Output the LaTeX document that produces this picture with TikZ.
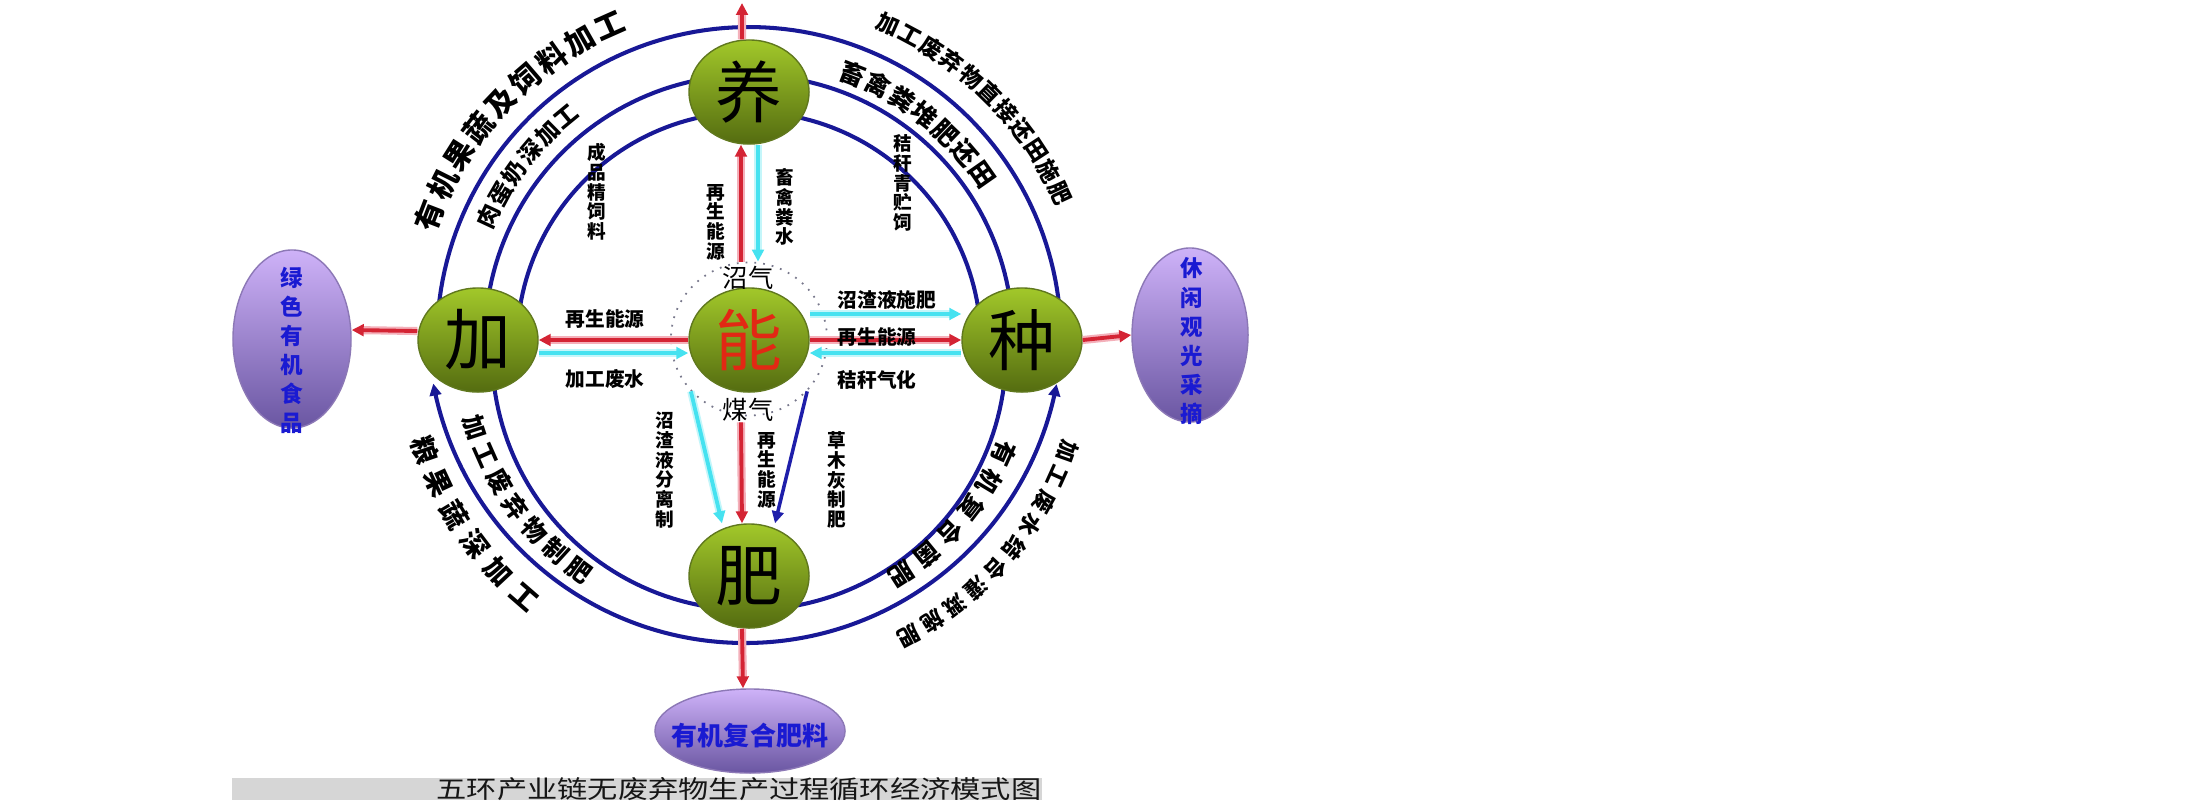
\documentclass[tikz,border=0pt]{standalone}
\usepackage{fontspec}
\setmainfont{Noto Sans CJK SC}
\usetikzlibrary{shapes.geometric,arrows.meta,calc}
\definecolor{ringblue}{RGB}{24,24,150}
\definecolor{redA}{RGB}{212,36,52}
\definecolor{redglow}{RGB}{244,176,186}
\definecolor{cyanA}{RGB}{70,226,240}
\definecolor{cyanglow}{RGB}{196,246,250}
\definecolor{gTop}{RGB}{162,200,42}
\definecolor{gBot}{RGB}{84,108,16}
\definecolor{gEdge}{RGB}{96,120,30}
\definecolor{pTop}{RGB}{206,178,248}
\definecolor{pBot}{RGB}{106,86,162}
\definecolor{pEdge}{RGB}{140,120,182}
\definecolor{blueT}{RGB}{26,26,210}
\definecolor{nengred}{RGB}{226,40,20}
\definecolor{navy}{RGB}{30,30,170}
\definecolor{barGray}{RGB}{214,214,214}
\definecolor{titleGray}{RGB}{22,22,22}
\definecolor{ringGray}{RGB}{120,120,140}

\tikzset{
  greenball/.style={ellipse, minimum width=1.2cm, minimum height=1.04cm, inner sep=0pt,
    top color=gTop, bottom color=gBot, draw=gEdge, line width=0.4pt,
    font=\fontsize{19}{19}\selectfont},
  purpleoval/.style={ellipse, inner sep=0pt, top color=pTop, bottom color=pBot, draw=pEdge, line width=0.4pt},
  ringline/.style={draw=ringblue, line width=1.15pt},
  tipT/.style={-{Triangle[length=3.4pt,width=3.3pt]}},
  redarr/.style={draw=redA, line width=1.1pt, tipT,
    preaction={draw=redglow, line width=2.3pt, arrows=-, shorten >=3pt}},
  cyanarr/.style={draw=cyanA, line width=1.1pt, tipT,
    preaction={draw=cyanglow, line width=2.1pt, arrows=-, shorten >=3pt}},
  navyarr/.style={draw=navy, line width=1.0pt, tipT},
  lab/.style={font=\fontsize{5.6}{5.6}\selectfont\bfseries, inner sep=0pt},
  vlab/.style={font=\fontsize{5.3}{5.6}\selectfont\bfseries, align=center, inner sep=0pt},
  gas/.style={font=\fontsize{7.2}{7.2}\selectfont, inner sep=0pt},
  plab/.style={font=\fontsize{6.4}{8.25}\selectfont\bfseries, text=blueT, align=center, inner sep=0pt},
}

% #1 radius, #2 start angle, #3 step, #4 rotation offset, #5 font size, #6 chars, #7 name prefix
\newcommand{\arcchars}[7]{%
  \foreach \ch [count=\k from 0] in {#6} {
    \pgfmathsetmacro{\ang}{#2+\k*#3}
    \node[inner sep=0pt, font=\fontsize{#5}{#5}\selectfont\bfseries, rotate=\ang+#4]
      (#7\k) at ({749+#1*cos(\ang)},{-338+#1*sin(\ang)}) {\ch};
  }%
}

\begin{document}
\begin{tikzpicture}[x=0.01cm,y=0.01cm]
\useasboundingbox (0,0) rectangle (2210,-808);
\fill[white] (0,0) rectangle (2210,-808);

% ---- title bar
\fill[barGray] (232,-778) rectangle (1042,-800);
\node[font=\fontsize{8.6}{8.6}\selectfont, text=titleGray, yscale=0.82, inner sep=0pt]
  (title) at (739,-789) {五环产业链无废弃物生产过程循环经济模式图};

% ---- rings
\draw[ringline] plot[domain=0:180,samples=100] ({749+312*cos(\x)},{-339+312*sin(\x)});
\draw[ringline] plot[domain=0:180,samples=100] ({749+264*cos(\x)},{-339+264*sin(\x)});
\draw[ringline] plot[domain=0:180,samples=100] ({749+232*cos(\x)},{-344+232*sin(\x)});
\draw[ringline] plot[domain=180:360,samples=100] ({749+257*cos(\x)},{-353+257*sin(\x)});
\draw[ringline, tipT] plot[domain=0:1,samples=80] ({745+317*cos(270-79.6*\x)},{-326+317*sin(270-79.6*\x)});
\draw[ringline, tipT] plot[domain=0:1,samples=80] ({745+317*cos(270+79.5*\x)},{-326+317*sin(270+79.5*\x)});

% ---- main nodes
\node[draw=ringGray, dotted, line width=0.5pt, ellipse, minimum width=1.56cm, minimum height=1.53cm, inner sep=0pt] (ring) at (749,-339) {};
\node[greenball] (yang) at (749,-92) {养};
\node[greenball] (jia) at (478,-340) {加};
\node[greenball, text=nengred] (neng) at (749,-340) {能};
\node[greenball] (zhong) at (1022,-340) {种};
\node[greenball] (fei) at (749,-576) {肥};

\node[purpleoval, minimum width=1.18cm, minimum height=1.78cm] (lvse) at (292,-339) {};
\node[plab] (lvsetxt) at (292,-350) {绿\\色\\有\\机\\食\\品};
\node[purpleoval, minimum width=1.16cm, minimum height=1.74cm] (xiu) at (1190,-335) {};
\node[plab] (xiutxt) at (1192,-341) {休\\闲\\观\\光\\采\\摘};
\node[purpleoval, minimum width=1.9cm, minimum height=0.84cm] (youji) at (750,-731) {};
\node[plab, font=\fontsize{7.4}{7.4}\selectfont\bfseries] (youjitxt) at (750,-736) {有机复合肥料};

\node[gas] (zhaoqi) at (748,-278) {沼气};
\node[gas] (meiqi) at (748,-410) {煤气};

% ---- connectors
\coordinate (topend) at (742,-3);
\draw[redarr] ([xshift=-0.07cm]yang.north) -- (topend);
\draw[redarr] ([xshift=-0.08cm]ring.north) -- ([xshift=-0.08cm]yang.south);
\draw[cyanarr] ([xshift=0.09cm]yang.south) -- ([xshift=0.09cm]ring.north);

\draw[redarr] (neng.west) -- (jia.east);
\draw[cyanarr] ([yshift=-0.13cm]jia.east) -- ([yshift=-0.13cm]neng.west);
\draw[redarr] ([yshift=0.09cm]jia.west) -- ([yshift=0.09cm]lvse.east);

\draw[cyanarr] ([yshift=0.26cm]neng.east) -- ([yshift=0.26cm]zhong.west);
\draw[redarr] (neng.east) -- (zhong.west);
\draw[cyanarr] ([yshift=-0.13cm]zhong.west) -- ([yshift=-0.13cm]neng.east);
\draw[redarr] (zhong.east) -- (xiu.west);

\draw[redarr] ([xshift=-0.07cm]meiqi.south) -- ([xshift=-0.07cm]fei.north);
\draw[cyanarr] (ring.222) -- ([xshift=-0.27cm]fei.north);
\draw[navyarr] (ring.318) -- ([xshift=0.26cm]fei.north);
\draw[redarr] ([xshift=-0.07cm]fei.south) -- ([xshift=-0.07cm]youji.north);

% ---- straight labels
\node[vlab] (l1) at (716,-222) {再\\生\\能\\源};
\node[vlab] (l2) at (785,-207) {畜\\禽\\粪\\水};
\node[vlab] (l3) at (597,-192) {成\\品\\精\\饲\\料};
\node[vlab] (l4) at (903,-183) {秸\\秆\\青\\贮\\饲};
\node[lab] (l5) at (605,-319) {再生能源};
\node[lab] (l6) at (605,-379) {加工废水};
\node[lab] (l7) at (887,-300) {沼渣液施肥};
\node[lab] (l8) at (877,-337) {再生能源};
\node[lab] (l9) at (877,-380) {秸秆气化};
\node[vlab] (l10) at (665,-470) {沼\\渣\\液\\分\\离\\制};
\node[vlab] (l11) at (767,-470) {再\\生\\能\\源};
\node[vlab] (l12) at (837,-480) {草\\木\\灰\\制\\肥};

% ---- curved labels
\arcchars{342}{159}{-5.625}{-90}{8.4}{有,机,果,蔬,及,饲,料,加,工}{ta}
\arcchars{287}{155}{-5.1}{-90}{6.6}{肉,蛋,奶,深,加,工}{tb}
\arcchars{343}{66}{-4.1}{-90}{6.4}{加,工,废,弃,物,直,接,还,田,施,肥}{tc}
\arcchars{284}{68.6}{-5.6}{-90}{7.2}{畜,禽,粪,堆,肥,还,田}{td}
\arcchars{343}{199}{6}{90}{7.8}{粮,果,蔬,深,加,工}{te}
\arcchars{288}{198}{5.95}{90}{7.0}{加,工,废,弃,物,制,肥}{tf}
\arcchars{280}{-24.3}{-6.58}{-90}{7.0}{有,机,复,合,菌,肥}{tg}
\arcchars{338}{-19.6}{-4.69}{-90}{6.2}{加,工,废,水,结,合,灌,溉,施,肥}{th}
\end{tikzpicture}
\end{document}
